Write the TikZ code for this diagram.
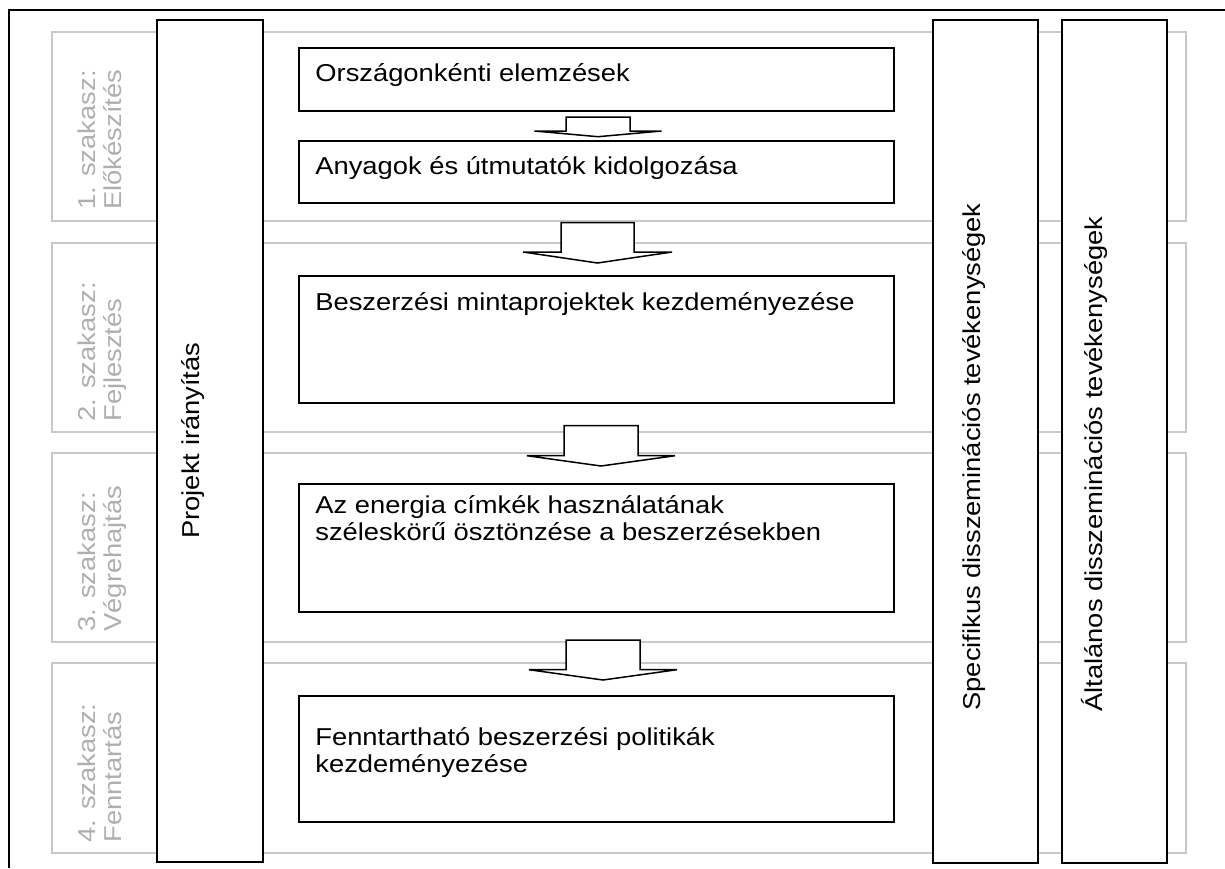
\documentclass[tikz,border=0pt]{standalone}
\usepackage{fontspec}
\setmainfont{Liberation Sans}[FakeStretch=1.12]
\usepackage{tikz}
\usetikzlibrary{calc,positioning,fit}

\definecolor{phasegray}{RGB}{200,200,200}
\definecolor{labelgray}{RGB}{175,175,175}

\tikzset{
	txt/.style={font=\fontsize{12.2}{13.35}\selectfont, inner sep=0pt},
	phasebox/.style={draw=phasegray, line width=1pt, inner sep=0pt},
	phaselabel/.style={txt, text=labelgray, rotate=90, align=left, anchor=north west},
	colbox/.style={draw, fill=white, line width=1pt, inner sep=0pt},
	coltext/.style={txt, rotate=90, anchor=base west},
	procbox/.style={draw, fill=white, line width=1pt, inner sep=0pt},
	proctext/.style={txt, align=left, anchor=north west},
	blockarrow/.style={draw, fill=white, line width=0.75pt, line join=miter}
}

% #1 from, #2 to, #3 x shift, #4 top gap, #5 tip gap, #6 head, #7 stem half, #8 head half
\newcommand{\flowarrow}[8]{
	\coordinate (#1top) at ($(#1.south)+(#3,#4)$);
	\coordinate (#1tip) at ($(#2.north)+(#3,-#5)$);
	\draw[blockarrow] ($(#1top)+(-#7,0)$) -- ($(#1tip)+(-#7,-#6)$) -- ($(#1tip)+(-#8,-#6)$)
		-- (#1tip) -- ($(#1tip)+(#8,-#6)$) -- ($(#1tip)+(#7,-#6)$) -- ($(#1top)+(#7,0)$) -- cycle;
}

\begin{document}
\begin{tikzpicture}[x=0.5pt,y=-0.5pt]
	\useasboundingbox (0,0) rectangle (1225,868);

	% phases
	\node[phasebox, fit={(52,32) (1186,221)}] (ph1) {};
	\node[phasebox, fit={(52,243) (1186,432)}] (ph2) {};
	\node[phasebox, fit={(52,453) (1186,642)}] (ph3) {};
	\node[phasebox, fit={(52,663) (1186,853)}] (ph4) {};
	\node[phaselabel] (ph1lab) at (77,210) {1. szakasz:\\Előkészítés};
	\node[phaselabel] (ph2lab) at (77,422) {2. szakasz:\\Fejlesztés};
	\node[phaselabel] (ph3lab) at (77,632) {3. szakasz:\\Végrehajtás};
	\node[phaselabel] (ph4lab) at (77,843) {4. szakasz:\\Fenntartás};

	% columns
	\node[colbox, fit={(157,19.5) (263,862)}] (proj) {};
	\node[colbox, fit={(933,20) (1038,862.5)}] (spec) {};
	\node[colbox, fit={(1062,20) (1167,862.5)}] (alt) {};
	\node[coltext] (projtext) at (199.5,539) {Projekt irányítás};
	\node[coltext] (spectext) at (980.5,711) {Specifikus disszeminációs tevékenységek};
	\node[coltext] (alttext) at (1102.5,712) {Általános disszeminációs tevékenységek};

	% process
	\node[procbox, fit={(299,47.7) (894,111)}] (p1) {};
	\node[procbox, fit={(299,140.7) (894,203)}] (p2) {};
	\node[procbox, fit={(299,275.7) (894,402.7)}] (p3) {};
	\node[procbox, fit={(299,484) (894,611.7)}] (p4) {};
	\node[procbox, fit={(299,695.7) (894,821.7)}] (p5) {};
	\node[proctext] (p1text) at (315,63) {Országonkénti elemzések};
	\node[proctext] (p2text) at (315,156) {Anyagok és útmutatók kidolgozása};
	\node[proctext] (p3text) at (315,292) {Beszerzési mintaprojektek kezdeményezése};
	\node[proctext] (p4text) at (315,495) {Az energia címkék használatának\\széleskörű ösztönzése a beszerzésekben};
	\node[proctext] (p5text) at (315,727) {Fenntartható beszerzési politikák\\kezdeményezése};

	\flowarrow{p1}{p2}{1.5}{5}{3}{5.7}{32}{63.5}
	\flowarrow{p2}{p3}{1}{18.7}{11.7}{11}{36.5}{74.5}
	\flowarrow{p3}{p4}{4.5}{22}{17}{10.3}{37}{74}
	\flowarrow{p4}{p5}{6.5}{27.3}{14.7}{10.3}{37}{74}

	% frame
	\draw[line width=1.2pt] (1225,10) -- (9,10) -- (9,868);
\end{tikzpicture}
\end{document}
